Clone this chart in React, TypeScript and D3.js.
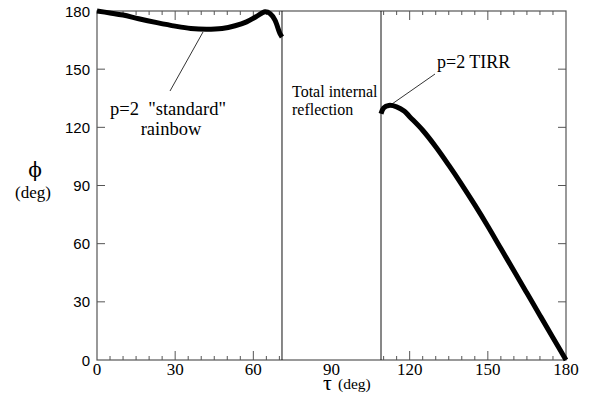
import React from "react";
import * as d3 from "d3";

const standardTau = [0, 5, 10, 16, 23, 30, 36, 42, 48, 53, 57.4, 61, 64.5, 66.5, 68.3, 70.2, 71];
const standardPhi = [180, 179, 177.9, 176, 174, 172.2, 171, 170.6, 171, 172.4, 174.4, 177, 179.6, 178.6, 175.3, 168.4, 166.6];

const tirrTau = [109, 110, 112, 115, 118, 120, 125, 130, 135, 140, 145, 150, 155, 160, 165, 170, 175, 180];
const tirrPhi = [127, 130, 131.3, 130.6, 128.3, 125.5, 118.5, 110, 100.5, 90.5, 80, 69, 57.5, 46, 34.5, 23, 11.5, 0];

const xTickLabels = [0, 30, 60, 90, 120, 150, 180];
const yTickLabels = [0, 30, 60, 90, 120, 150, 180];
const tirBounds = [71, 109];

const W = 591, H = 406;
const x = d3.scaleLinear().domain([0, 180]).range([97, 566]);
const y = d3.scaleLinear().domain([0, 180]).range([360, 11]);

const line = d3
  .line<[number, number]>()
  .x((d) => x(d[0]))
  .y((d) => y(d[1]))
  .curve(d3.curveCatmullRom.alpha(0.5));

export default function App() {
  const stdPts = standardTau.map((t, i) => [t, standardPhi[i]] as [number, number]);
  const tirrPts = tirrTau.map((t, i) => [t, tirrPhi[i]] as [number, number]);
  const minorTicks = d3.range(5, 180, 5).filter((t) => t < tirBounds[0] || t > tirBounds[1]);
  const frame = "#555";
  return (
    <svg
      width={W}
      height={H}
      fontFamily="Liberation Serif"
      style={{ position: "absolute", left: 0, top: 0, background: "#fff", fontFamily: "Liberation Serif" }}
    >
      <rect x={x(0)} y={y(180)} width={x(180) - x(0)} height={y(0) - y(180)} fill="none" stroke={frame} strokeWidth={1.2} />
      {tirBounds.map((t) => (
        <line key={t} x1={x(t)} x2={x(t)} y1={y(0)} y2={y(180)} stroke="#111" strokeWidth={1} />
      ))}
      {minorTicks.map((t) => {
        const len = t % 30 === 0 ? 9 : 4;
        return (
          <g key={"xt" + t} stroke={frame} strokeWidth={1}>
            <line x1={x(t)} x2={x(t)} y1={y(0)} y2={y(0) - len} />
            <line x1={x(t)} x2={x(t)} y1={y(180)} y2={y(180) + len} />
          </g>
        );
      })}
      {yTickLabels.filter((v) => v > 0 && v < 180).map((v) => (
        <g key={"yt" + v} stroke={frame} strokeWidth={1}>
          <line x1={x(0)} x2={x(0) + 8} y1={y(v)} y2={y(v)} />
          <line x1={x(180)} x2={x(180) - 8} y1={y(v)} y2={y(v)} />
        </g>
      ))}
      <g fontSize={17} fill="#000">
        {xTickLabels.map((v) => (
          <text key={"xl" + v} x={x(v)} y={375} textAnchor="middle">
            {v}
          </text>
        ))}
      </g>
      <g fontSize={15} fill="#000" style={{ fontFamily: "Liberation Sans" }}>
        {yTickLabels.map((v) => (
          <text key={"yl" + v} x={90} y={y(v) + 5.5} textAnchor="end">
            {v}
          </text>
        ))}
      </g>
      <text x={35} y={177} textAnchor="middle" style={{ fontFamily: "DejaVu Serif" }} fontSize={20} fill="#000">ϕ</text>
      <text x={33} y={198} textAnchor="middle" fontSize={17} fill="#000">(deg)</text>
      <text x={323} y={390} fontSize={22} fill="#000">τ</text>
      <text x={338} y={389} fontSize={15.5} fill="#000">(deg)</text>
      <path d={line(stdPts) ?? ""} fill="none" stroke="#000" strokeWidth={5} strokeLinejoin="round" />
      <path d={line(tirrPts) ?? ""} fill="none" stroke="#000" strokeWidth={5} strokeLinejoin="round" />
      <line x1={170} y1={91} x2={203} y2={32} stroke="#000" strokeWidth={0.8} />
      <text x={110} y={115} style={{ whiteSpace: "pre" }} fontSize={18.5} fill="#000">p=2  "standard"</text>
      <text x={171} y={135} textAnchor="middle" fontSize={18.5} fill="#000">rainbow</text>
      <text x={292} y={97} fontSize={16} fill="#000">Total internal</text>
      <text x={292} y={115} fontSize={16} fill="#000">reflection</text>
      <line x1={435} y1={74} x2={392} y2={104} stroke="#000" strokeWidth={0.8} />
      <text x={437} y={68} fontSize={18} fill="#000">p=2 TIRR</text>
    </svg>
  );
}
